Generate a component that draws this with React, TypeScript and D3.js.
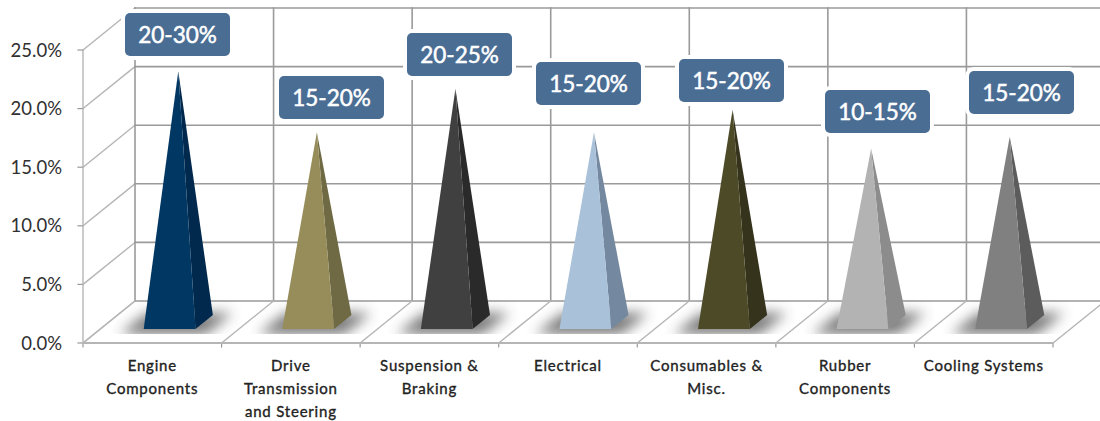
import React from "react";
import * as d3 from "d3";

// Share of aftermarket parts by component group
const categories = [
  ["Engine", "Components"],
  ["Drive", "Transmission", "and Steering"],
  ["Suspension &", "Braking"],
  ["Electrical"],
  ["Consumables &", "Misc."],
  ["Rubber", "Components"],
  ["Cooling Systems"],
];
const values = [21.4, 16.2, 19.9, 16.2, 18.1, 14.8, 15.8];
const rangeLabels = ["20-30%", "15-20%", "20-25%", "15-20%", "15-20%", "10-15%", "15-20%"];
const yTicks = [0, 5, 10, 15, 20, 25];

const frontColors = ["#003763", "#968d5a", "#404040", "#a9c1d9", "#4d4a27", "#b3b3b3", "#808080"];
const sideColors = ["#00294d", "#6f6a44", "#2a2a2a", "#7489a0", "#35331c", "#8c8c8c", "#5c5c5c"];

// Hand-placed callout boxes, left and top edges
const calloutLeft = [125, 279, 407, 536, 679, 825, 969];
const calloutTop = [13, 76, 33, 62, 59, 90, 71];

const WIDTH = 1100;
const HEIGHT = 421;
const DEPTH_X = 52;
const DEPTH_Y = 42;
const FONT = "Lato, 'Open Sans', sans-serif";

const x = d3.scaleLinear().domain([0, categories.length]).range([83, 1053]);
const y = d3.scaleLinear().domain([0, 25]).range([343, 50]);

// Oblique projection: t = 0 at the front of the floor, t = 1 at the back wall
const project = (cx: number, v: number, t: number): [number, number] => [
  x(cx) + DEPTH_X * t,
  y(v) - DEPTH_Y * t,
];
const line = d3.line();
const poly = (pts: [number, number][]) => line(pts)! + "Z";

const GRID = "#9a9a9a";
const SIDE = "#b6b6b6";

export default function App() {
  const idx = d3.range(categories.length);
  const halfBase = 0.187;
  return (
    <svg
      width={WIDTH}
      height={HEIGHT}
      viewBox={`0 0 ${WIDTH} ${HEIGHT}`}
      style={{ position: "absolute", left: 0, top: 0, background: "#fff" }}
    >
      <defs>
        <filter id="floorShadow" x="-30%" y="-60%" width="160%" height="220%">
          <feGaussianBlur stdDeviation="6.5" />
        </filter>
        {/* The shadow stops short at the front edge of its patch of floor */}
        <clipPath id="floorClip">
          <rect x={0} y={290} width={WIDTH} height={44} />
        </clipPath>
      </defs>

      {/* Walls and floor */}
      <g fill="none" strokeLinecap="square">
        {yTicks.map((v) => (
          <g key={v}>
            <path d={line([project(0, v, 0), project(0, v, 1)])!} stroke={SIDE} strokeWidth={1.4} />
            <path d={line([project(0, v, 1), project(categories.length, v, 1)])!} stroke={GRID} strokeWidth={1.6} />
            <path d={line([[x(0) - 5, y(v)], [x(0), y(v)]])!} stroke="#999" strokeWidth={1.2} />
          </g>
        ))}
        {d3.range(0, categories.length + 1).map((i) => (
          <g key={i}>
            {i < categories.length && (
              <path d={line([project(i, 0, 1), project(i, 25, 1)])!} stroke={GRID} strokeWidth={1.6} />
            )}
            <path d={line([project(i, 0, 0), project(i, 0, 1)])!} stroke={SIDE} strokeWidth={1.4} />
            <path d={line([[x(i), y(0)], [x(i), y(0) + 4]])!} stroke="#999" strokeWidth={1.2} />
          </g>
        ))}
        <path d={line([project(0, 0, 0), project(0, 25, 0)])!} stroke={SIDE} strokeWidth={1.4} />
        <path d={line([project(0, 0, 0), project(categories.length, 0, 0)])!} stroke="#b5b5b5" strokeWidth={2} />
      </g>

      {/* Soft shadows on the floor */}
      <g clipPath="url(#floorClip)">
        {idx.map((i) => {
          const c = i + 0.5;
          const w = 0.31;
          return (
            <path
              key={i}
              d={poly([
                project(c - w, 0, 0.2),
                project(c + w, 0, 0.2),
                project(c + w, 0, 0.72),
                project(c - w, 0, 0.72),
              ])}
              fill="#3c3c3c"
              opacity={0.68}
              filter="url(#floorShadow)"
            />
          );
        })}
      </g>

      {/* Pyramids */}
      {idx.map((i) => {
        const c = i + 0.5;
        const apex = project(c, values[i], 0.5);
        const fl = project(c - halfBase, 0, 1 / 3);
        const fr = project(c + halfBase, 0, 1 / 3);
        const br = project(c + halfBase, 0, 2 / 3);
        return (
          <g key={i}>
            <path d={poly([fr, br, apex])} fill={sideColors[i]} />
            <path d={poly([fl, fr, apex])} fill={frontColors[i]} />
          </g>
        );
      })}

      {/* Callouts with the stated ranges */}
      {idx.map((i) => (
        <g key={i}>
          <rect
            x={calloutLeft[i]}
            y={calloutTop[i]}
            width={105}
            height={43}
            rx={5}
            fill="#4a6d94"
            stroke="#fff"
            strokeWidth={8}
            paintOrder="stroke"
          />
          <text
            x={calloutLeft[i] + 52.5}
            y={calloutTop[i] + 21.5}
            dy="0.36em"
            textAnchor="middle"
            fill="#fff"
            stroke="#fff"
            strokeWidth={0.5}
            fontFamily={FONT}
            fontSize={22.5}
          >
            {rangeLabels[i]}
          </text>
        </g>
      ))}

      {/* Value axis labels */}
      {yTicks.map((v) => (
        <text
          key={v}
          x={62}
          y={y(v)}
          dy="0.36em"
          textAnchor="end"
          fill="#303030"
          fontFamily={FONT}
          fontSize={18.5}
        >
          {d3.format(".1f")(v)}%
        </text>
      ))}

      {/* Category labels */}
      {idx.map((i) =>
        categories[i].map((text, j) => (
          <text
            key={j}
            x={x(i + 0.5)}
            y={366 + j * 23}
            dy="0.36em"
            textAnchor="middle"
            fill="#222"
            stroke="#222"
            strokeWidth={0.35}
            fontFamily={FONT}
            fontSize={15}
            letterSpacing={0.8}
          >
            {text}
          </text>
        ))
      )}
    </svg>
  );
}
